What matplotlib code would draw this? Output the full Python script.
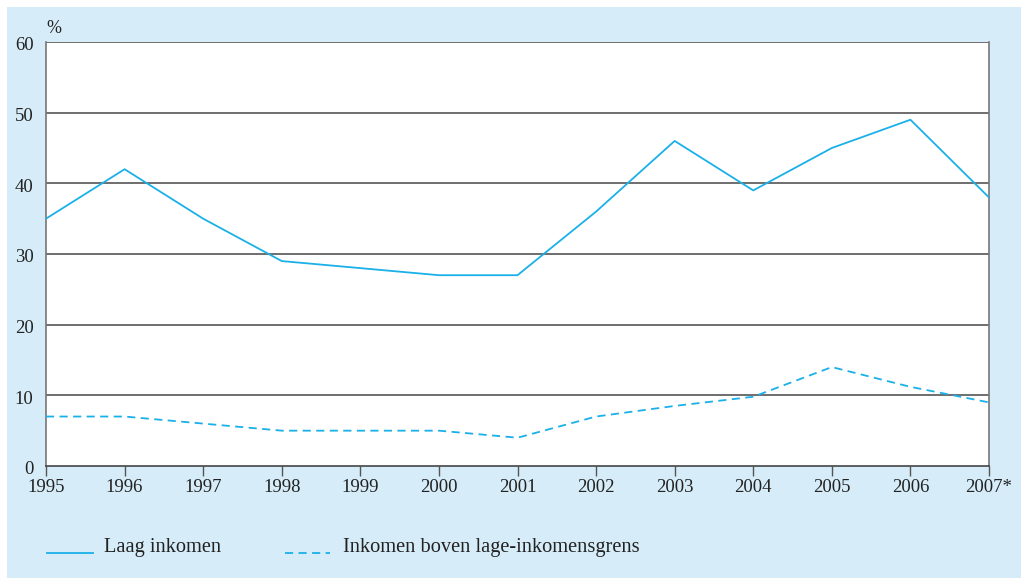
import matplotlib
matplotlib.use("Agg")
import matplotlib.pyplot as plt
from matplotlib.patches import Rectangle
from matplotlib.lines import Line2D
from matplotlib.transforms import ScaledTranslation

years = [1995, 1996, 1997, 1998, 1999, 2000, 2001, 2002, 2003, 2004, 2005, 2006, 2007]
year_labels = ["1995", "1996", "1997", "1998", "1999", "2000", "2001", "2002",
               "2003", "2004", "2005", "2006", "2007*"]
laag_inkomen = [35, 42, 35, 29, 28, 27, 27, 36, 46, 39, 45, 49, 38]
boven_grens = [7, 7, 6, 5, 5, 5, 4, 7, 8.5, 9.8, 14, 11.2, 9]
series_names = ["Laag inkomen", "Inkomen boven lage-inkomensgrens"]
yticks = [0, 10, 20, 30, 40, 50, 60]

W, H = 1022, 578
plt.rcParams['font.family'] = ['Liberation Serif', 'DejaVu Serif']
fig = plt.figure(figsize=(W / 100, H / 100), dpi=100)
fig.patch.set_facecolor("white")

bg = "#d6edf9"
line_col = "#1ab0e8"
fig.add_artist(Rectangle((7 / W, 0), (1021 - 7) / W, 1 - 7 / H,
                         transform=fig.transFigure, facecolor=bg,
                         edgecolor="none", zorder=0))

ax = fig.add_axes([46 / W, 1 - 466 / H, (989 - 46) / W, (466 - 42) / H])
ax.set_facecolor("white")
ax.set_zorder(1)

for v in yticks[1:]:
    ax.axhline(v, color="#555555", lw=1.2, zorder=1)

ax.plot(years, laag_inkomen, color=line_col, lw=1.3, zorder=3)
ax.plot(years, boven_grens, color=line_col, lw=1.3, dashes=(4.5, 3), zorder=3)

ax.set_xlim(1995, 2007)
ax.set_ylim(0, 60)
ax.set_xticks(years)
ax.set_xticklabels(year_labels, fontsize=13.5, color="#222222")
ax.set_yticks(yticks)
ax.set_yticklabels([str(v) for v in yticks], fontsize=13.5, color="#222222")
ax.tick_params(axis="x", length=7, width=1.0, color="#555555", pad=2, direction="out")
ax.tick_params(axis="y", length=0, pad=9)
shift = ScaledTranslation(0, -2 / 100, fig.dpi_scale_trans)
for t in ax.get_yticklabels():
    t.set_transform(t.get_transform() + shift)

for s in ["left", "right"]:
    ax.spines[s].set_color("#777777")
    ax.spines[s].set_linewidth(1.2)
ax.spines["top"].set_visible(False)
ax.spines["bottom"].set_color("#444444")
ax.spines["bottom"].set_linewidth(1.2)

fig.text(46 / W, 1 - 33 / H, "%", fontsize=13, color="#222222", ha="left", va="baseline")

ly = 1 - 553 / H
fig.add_artist(Line2D([47 / W, 93 / W], [ly, ly], color=line_col, lw=1.3))
fig.add_artist(Line2D([285 / W, 330 / W], [ly, ly], color=line_col, lw=1.3, dashes=(4.5, 3)))
fig.text(104 / W, ly + 1 / H, series_names[0], fontsize=14.7, color="#222222", ha="left", va="baseline")
fig.text(343 / W, ly + 1 / H, series_names[1], fontsize=14.7, color="#222222", ha="left", va="baseline")

fig.savefig("out.png", dpi=100, facecolor="white")
